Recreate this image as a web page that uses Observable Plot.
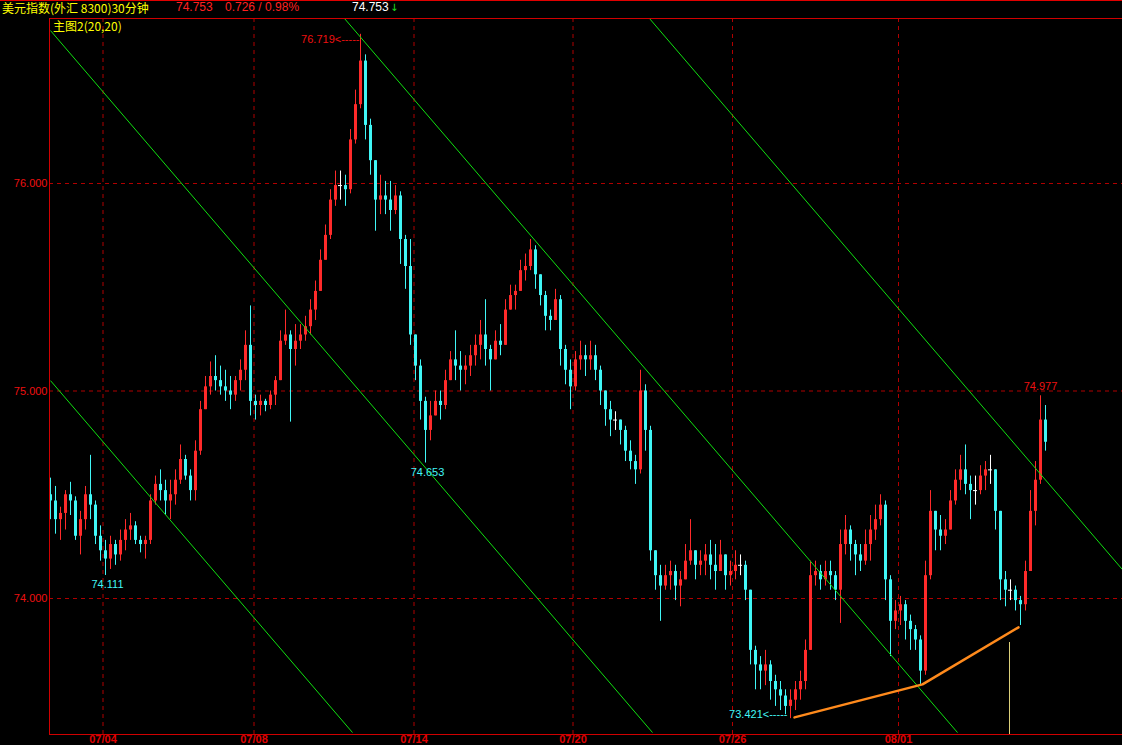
<!DOCTYPE html>
<html><head><meta charset="utf-8">
<script src="https://cdn.jsdelivr.net/npm/d3@7"></script>
<script src="https://cdn.jsdelivr.net/npm/@observablehq/plot@0.6"></script>
<style>
html,body{margin:0;padding:0;background:#000;width:1122px;height:745px;overflow:hidden;}
#topline{position:absolute;left:0;top:0;width:1122px;height:1px;background:#e00000;}
.t{position:absolute;top:0;line-height:15px;font-size:12px;font-family:"Liberation Sans",Arial,sans-serif;white-space:pre;}
#chart{position:absolute;left:0;top:18px;}
#sub{position:absolute;left:53px;top:19px;line-height:13px;font-size:12px;color:#ffff00;font-family:"Noto Sans CJK SC",sans-serif;white-space:pre;}
</style></head><body>
<div id="topline"></div>
<div id="hdr"></div>
<div id="chart"></div>
<div id="sub"></div>
<script>
// ---------- header texts ----------
const titleText = "美元指数(外汇 8300)30分钟";
const lastPrice = "74.753";
const changeText = "0.726 / 0.98%";
const subTitle = "主图2(20,20)";

// ---------- 30-minute bars (sampled) ----------
const firstOpen = 74.50;
const high = [
74.58,74.54,74.44,74.52,74.56,74.49,74.42,74.54,74.69,74.47,
74.35,74.28,74.30,74.28,74.33,74.38,74.41,74.37,74.30,74.30,
74.50,74.59,74.62,74.57,74.57,74.62,74.74,74.69,74.62,74.76,
74.95,75.07,75.14,75.17,75.12,75.10,75.07,75.07,75.15,75.29,
75.41,74.98,74.98,74.96,75.00,75.07,75.29,75.39,75.29,75.32,
75.32,75.36,75.44,75.53,75.68,75.80,75.97,76.06,76.06,76.04,
76.26,76.45,76.719,76.62,76.31,76.11,76.04,76.01,76.01,75.99,
75.96,75.75,75.73,75.27,75.15,74.97,74.95,75.00,75.00,75.10,
75.19,75.29,75.19,75.17,75.22,75.27,75.34,75.44,75.22,75.29,
75.32,75.44,75.51,75.51,75.63,75.66,75.73,75.70,75.56,75.48,
75.39,75.49,75.46,75.22,75.15,75.19,75.24,75.22,75.24,75.22,
75.12,75.00,74.95,74.90,74.86,74.83,74.76,74.69,75.10,75.03,
74.83,74.23,74.16,74.16,74.18,74.16,74.13,74.26,74.38,74.23,
74.23,74.26,74.28,74.26,74.28,74.21,74.18,74.23,74.21,74.18,
74.04,73.77,73.72,73.75,73.70,73.63,73.60,73.56,73.56,73.60,
73.65,73.80,74.18,74.18,74.16,74.18,74.18,74.13,74.33,74.40,
74.35,74.28,74.26,74.33,74.40,74.45,74.50,74.47,74.11,73.99,
74.01,73.99,73.92,73.87,73.82,74.18,74.52,74.42,74.40,74.38,
74.52,74.62,74.69,74.74,74.59,74.59,74.64,74.66,74.69,74.62,
74.42,74.13,74.09,74.06,74.01,74.18,74.52,74.66,74.977,74.93];
const low = [
74.38,74.31,74.28,74.33,74.40,74.28,74.21,74.33,74.38,74.26,
74.18,74.111,74.14,74.16,74.18,74.23,74.28,74.26,74.22,74.19,
74.26,74.45,74.47,74.40,74.38,74.45,74.55,74.57,74.47,74.47,
74.69,74.91,74.98,75.00,74.98,74.95,74.91,74.95,75.00,75.05,
74.88,74.86,74.88,74.90,74.91,74.93,75.05,75.22,74.85,75.12,
75.20,75.24,75.27,75.34,75.48,75.63,75.73,75.89,75.92,75.89,
75.95,76.19,76.36,76.21,76.04,75.77,75.85,75.85,75.77,75.85,
75.61,75.49,75.22,75.05,74.86,74.653,74.76,74.88,74.86,74.91,
75.05,75.05,75.00,75.03,75.07,75.12,75.15,75.12,75.00,75.15,
75.17,75.22,75.39,75.39,75.48,75.53,75.58,75.49,75.41,75.29,
75.29,75.34,75.12,75.03,74.91,75.00,75.10,75.07,75.10,75.05,
74.93,74.83,74.78,74.81,74.74,74.66,74.62,74.55,74.60,74.71,
74.18,74.04,73.89,74.04,74.04,73.99,73.96,74.09,74.16,74.09,
74.11,74.11,74.09,74.04,74.13,74.04,74.06,74.09,74.11,73.99,
73.68,73.56,73.56,73.58,73.51,73.48,73.46,73.44,73.421,73.46,
73.51,73.56,73.75,74.06,74.04,74.06,74.04,73.99,73.88,74.21,
74.18,74.11,74.13,74.16,74.18,74.28,74.35,73.99,73.72,73.85,
73.87,73.80,73.75,73.75,73.586,73.63,74.09,74.23,74.23,74.26,
74.33,74.45,74.52,74.50,74.38,74.45,74.50,74.52,74.55,74.33,
73.99,73.96,73.99,73.94,73.87,73.94,74.13,74.35,74.55,74.71];
const close = [
74.47,74.38,74.41,74.50,74.47,74.30,74.38,74.50,74.45,74.30,
74.23,74.19,74.26,74.21,74.28,74.33,74.35,74.28,74.26,74.28,
74.47,74.55,74.52,74.47,74.50,74.57,74.67,74.59,74.52,74.71,
74.91,75.02,75.07,75.05,75.02,75.00,74.98,75.05,75.10,75.22,
74.95,74.93,74.95,74.93,74.98,75.05,75.24,75.27,75.20,75.24,
75.27,75.31,75.39,75.48,75.63,75.75,75.92,75.99,75.99,75.97,
76.21,76.38,76.59,76.28,76.11,75.92,75.94,75.92,75.87,75.94,
75.73,75.60,75.27,75.12,74.95,74.81,74.88,74.95,74.93,75.05,
75.15,75.12,75.10,75.12,75.17,75.22,75.27,75.20,75.15,75.24,
75.22,75.39,75.46,75.48,75.58,75.60,75.68,75.56,75.46,75.36,
75.34,75.44,75.20,75.10,75.02,75.15,75.17,75.15,75.17,75.10,
75.00,74.91,74.86,74.86,74.81,74.71,74.66,74.62,75.00,74.81,
74.23,74.11,74.06,74.11,74.13,74.06,74.09,74.18,74.23,74.16,
74.18,74.21,74.16,74.13,74.21,74.11,74.13,74.16,74.16,74.04,
73.75,73.68,73.65,73.68,73.60,73.56,73.53,73.48,73.51,73.56,
73.60,73.75,74.11,74.13,74.09,74.13,74.11,74.04,74.26,74.33,
74.26,74.21,74.18,74.26,74.33,74.38,74.45,74.09,73.89,73.94,
73.97,73.89,73.85,73.80,73.65,74.11,74.42,74.33,74.30,74.33,
74.47,74.57,74.62,74.55,74.52,74.52,74.59,74.62,74.62,74.42,
74.09,74.04,74.04,73.99,73.97,74.13,74.42,74.57,74.86,74.753];

// ---------- axes ----------
const dateLabels = ["07/04","07/08","07/14","07/20","07/26","08/01"];
const dateTickIndex = [10.5, 40.7, 72.7, 104.5, 136.4, 169.6];
const priceTicks = [74, 75, 76];
const xDomain = [-0.2, 214.4];
const yDomain = [73.3446, 76.7952];

// ---------- drawn lines ----------
const channelStartIndex = [0, 0, 58.8, 119.8];
const channelStartPrice = [75.05, 76.737, 76.795, 76.795];
const channelEndIndex = [60.4, 120.4, 181.4, 214.4];
const channelEndPrice = [73.354, 73.354, 73.354, 74.139];
const supportIndex = [148.8, 174.4, 193.6];
const supportPrice = [73.427, 73.586, 73.861];
const markerIndex = [191.8];
const markerTopPrice = [73.788];

// ---------- extreme labels ----------
const extremeLabel = ["76.719", "74.111", "74.653", "73.421", "74.977"];
const extremeIndex = [62, 11, 75, 148, 198];
const extremePrice = [76.719, 74.111, 74.653, 73.421, 74.977];

// ---------- build ----------
const UP = "#ff2a2a", DOWN = "#40f6f6", RED = "#ee1010", GRID = "#b00000", BORDER = "#d00000";
const rows = close.map((c, i) => ({i, open: i ? close[i-1] : firstOpen, close: c, high: high[i], low: low[i]}));
const col = d => d.close > d.open + 0.004 ? UP : d.close < d.open - 0.004 ? DOWN : "#ffffff";
const dojis = rows.filter(d => Math.abs(d.close - d.open) <= 0.004);
const channels = channelStartIndex.map((s, k) => ({x1: s, y1: channelStartPrice[k], x2: channelEndIndex[k], y2: channelEndPrice[k]}));
const support = supportIndex.map((s, k) => ({i: s, p: supportPrice[k]}));
const marker = markerIndex.map((s, k) => ({i: s, top: markerTopPrice[k]}));
const ann = extremeLabel.map((t, k) => ({t, i: extremeIndex[k], p: extremePrice[k]}));
const dateRows = dateLabels.map((l, k) => ({label: l, t: dateTickIndex[k]}));
const F = "Liberation Sans, Arial, sans-serif";

const chart = Plot.plot({
  width: 1122, height: 727,
  marginLeft: 49, marginRight: 0, marginTop: 0, marginBottom: 11,
  style: {background: "#000", color: RED, fontFamily: F},
  x: {domain: xDomain, axis: null},
  y: {domain: yDomain, axis: null},
  color: {type: "identity"},
  marks: [
    Plot.ruleY(priceTicks, {y: d => d, stroke: GRID, strokeDasharray: "4,4"}),
    Plot.ruleX(dateTickIndex, {x: d => d, stroke: GRID, strokeDasharray: "4,4"}),
    Plot.ruleX(rows, {x: "i", y1: "low", y2: "high", stroke: col, strokeWidth: 1}),
    Plot.ruleX(rows, {x: "i", y1: "open", y2: "close", stroke: col, strokeWidth: 3}),
    Plot.ruleY(dojis, {y: "close", x1: d => d.i - 0.4, x2: d => d.i + 0.4, stroke: "#ffffff"}),
    Plot.link(channels, {x1: "x1", y1: "y1", x2: "x2", y2: "y2", stroke: "#10e010", strokeWidth: 1, clip: true}),
    Plot.line(support, {x: "i", y: "p", stroke: "#ff8a1c", strokeWidth: 2.5}),
    Plot.ruleX(marker, {x: "i", y1: "top", y2: () => yDomain[0], stroke: "#dcd07a", strokeWidth: 1}),
    Plot.ruleX([xDomain[0]], {x: d => d, stroke: BORDER}),
    Plot.ruleY([yDomain[0], yDomain[1]], {y: d => d, stroke: BORDER}),
    Plot.text(priceTicks, {y: d => d, text: d => d3.format(".3f")(d), frameAnchor: "left", textAnchor: "end", dx: -2, fill: RED, fontSize: 11, fontFamily: F}),
    Plot.text(dateRows, {x: "t", text: "label", frameAnchor: "bottom", lineAnchor: "top", dy: 0.5, fill: "#e00000", fontSize: 11, fontWeight: "bold", fontFamily: F}),
    Plot.text([ann[0]], {x: "i", y: "p", text: d => d.t + "<-----", textAnchor: "end", dx: -1, dy: 5, fill: RED, fontSize: 11, fontFamily: F}),
    Plot.text([ann[3]], {x: "i", y: "p", text: d => d.t + "<-----", textAnchor: "end", dx: -3, dy: -4, fill: DOWN, fontSize: 11, fontFamily: F}),
    Plot.text([ann[1], ann[2]], {x: "i", y: "p", text: "t", dx: 2, dy: 9, fill: DOWN, fontSize: 11, fontFamily: F}),
    Plot.text([ann[4]], {x: "i", y: "p", text: "t", dy: -9, fill: RED, fontSize: 11, fontFamily: F})
  ]
});
document.getElementById("chart").appendChild(chart);

// header
const hdr = document.getElementById("hdr");
function addSpan(text, left, color, font, size) {
  const s = document.createElement("span");
  s.className = "t"; s.textContent = text; s.style.left = left + "px"; s.style.color = color;
  if (font) s.style.fontFamily = font;
  if (size) s.style.fontSize = size + "px";
  hdr.appendChild(s);
}
addSpan(titleText, 2, "#ffff00", "'Noto Sans CJK SC', sans-serif");
addSpan(lastPrice, 176, "#ff2020");
addSpan(changeText, 225, "#ff2020");
addSpan(lastPrice, 352, "#ffffff");
addSpan("↓", 390, "#20e020", "'DejaVu Sans', sans-serif", 10);
document.getElementById("sub").textContent = subTitle;
</script>
</body></html>
